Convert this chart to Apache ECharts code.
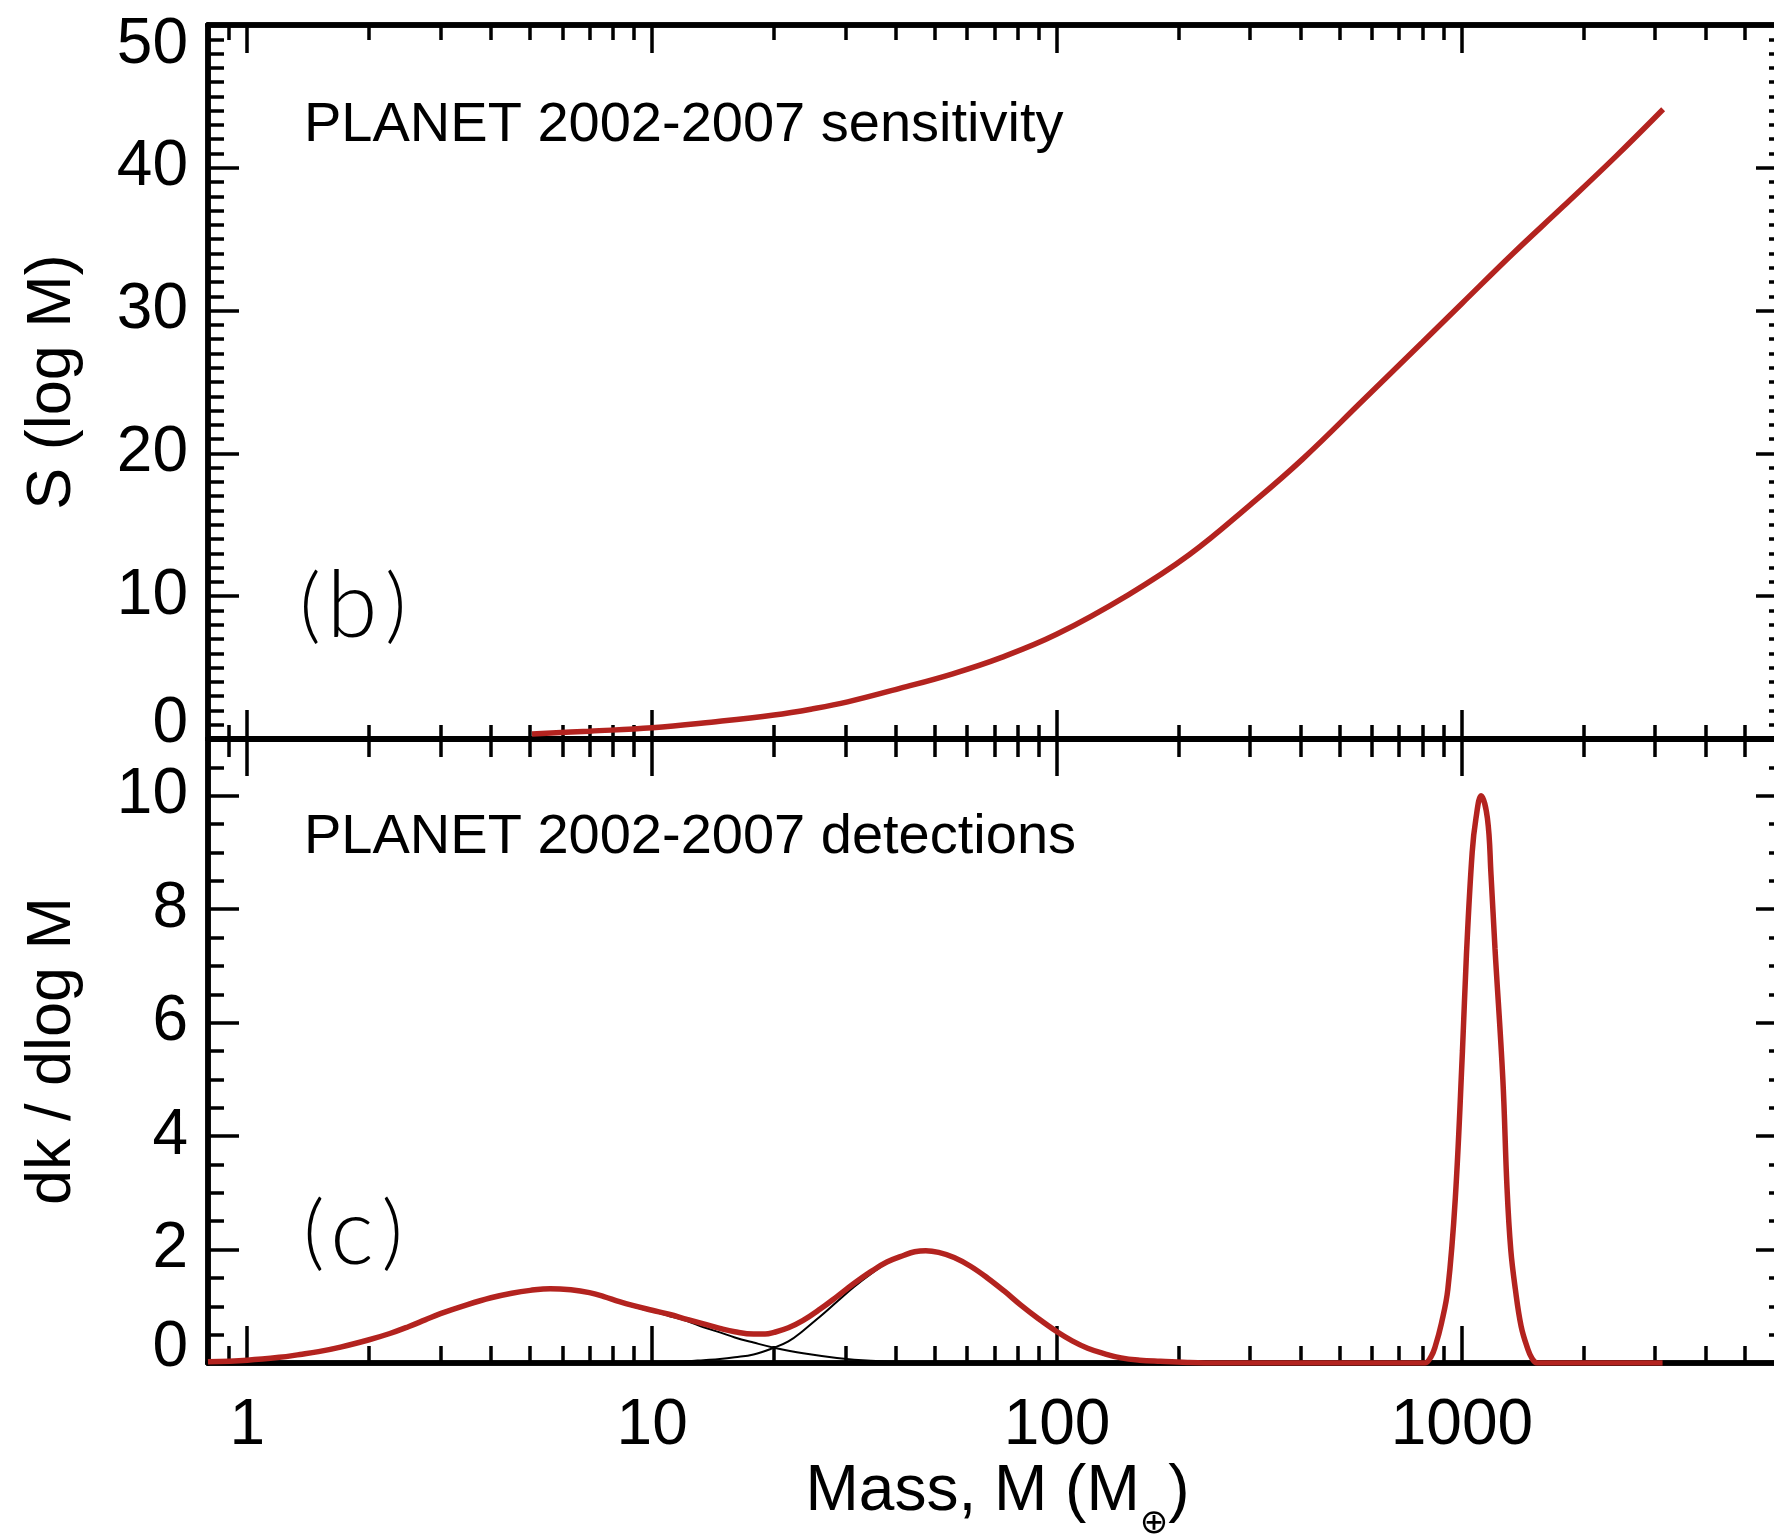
<!DOCTYPE html>
<html>
<head>
<meta charset="utf-8">
<script src="https://cdn.jsdelivr.net/npm/echarts@6/dist/echarts.min.js"></script>
<style>
html,body{margin:0;padding:0;background:#fff;}
#chart{width:1774px;height:1537px;}
</style>
</head>
<body>
<div id="chart"></div>
<script>
// ---------------- data ----------------
// panel (b): sensitivity S(log M)
const massSens = [5.05, 7, 10, 14, 20, 25, 30.4, 41.1, 55, 72.7, 100, 150, 212, 300, 404, 569, 800, 1000, 1337, 1780, 2400, 3140];
const sensitivity = [0.35, 0.55, 0.78, 1.18, 1.68, 2.12, 2.6, 3.56, 4.55, 5.7, 7.35, 10.1, 12.9, 16.4, 19.6, 23.7, 27.8, 30.5, 34.0, 37.3, 40.8, 44.1];

// panel (c): detections dk / dlog M (total, red)
const massDet = [0.8, 1, 1.2, 1.35, 1.5, 1.7, 2, 2.25, 2.5, 2.75, 3, 3.5, 4, 4.5, 5, 5.6, 6.3, 7, 7.6, 8.3, 9, 10, 11, 12.2, 13.4, 14.7, 16, 17.8, 19, 20, 21.7, 23.6, 26, 28.6, 31.5, 34.7, 38, 41.9, 44.5, 47.4, 51, 55.7, 61, 67.3, 74, 81.4, 90, 100, 109, 119, 130, 144, 160, 180, 210, 250, 800, 811, 840, 859, 890, 923, 963, 1003, 1026, 1060, 1083, 1115, 1156, 1180, 1207, 1262, 1292, 1320, 1355, 1400, 1449, 1490, 1535, 3130];
const detTotal = [0.02, 0.05, 0.1, 0.15, 0.2, 0.28, 0.41, 0.52, 0.64, 0.76, 0.87, 1.03, 1.15, 1.23, 1.28, 1.31, 1.29, 1.24, 1.17, 1.08, 1.01, 0.93, 0.86, 0.77, 0.69, 0.61, 0.55, 0.51, 0.51, 0.54, 0.62, 0.75, 0.95, 1.17, 1.4, 1.61, 1.78, 1.9, 1.96, 1.98, 1.95, 1.86, 1.71, 1.5, 1.27, 1.02, 0.78, 0.55, 0.39, 0.26, 0.17, 0.09, 0.05, 0.03, 0.01, 0, 0, 0, 0.12, 0.29, 0.7, 1.3, 2.9, 5.5, 7.2, 9.0, 9.6, 10.0, 9.6, 8.6, 7.3, 5.0, 3.1, 2.0, 1.3, 0.65, 0.28, 0.08, 0, 0];

// panel (c): individual components (thin black)
const massComp1 = [0.8, 1, 1.2, 1.35, 1.5, 1.7, 2, 2.25, 2.5, 2.75, 3, 3.5, 4, 4.5, 5, 5.6, 6.3, 7, 7.6, 8.3, 9, 10, 11, 12.2, 13.4, 14.7, 16, 17.8, 20, 23.6, 28.6, 34.7, 45, 60, 100];
const comp1 = [0.02, 0.05, 0.1, 0.15, 0.2, 0.28, 0.41, 0.52, 0.64, 0.76, 0.87, 1.03, 1.15, 1.23, 1.28, 1.31, 1.29, 1.24, 1.17, 1.07, 0.99, 0.91, 0.83, 0.74, 0.63, 0.54, 0.45, 0.36, 0.27, 0.17, 0.09, 0.04, 0.01, 0, 0];
const massComp2 = [5, 8, 10, 11, 12.2, 13.4, 14.7, 16, 17.8, 20, 21.7, 23.6, 26, 28.6, 31.5, 34.7, 38, 41.9, 44.5, 47.4, 51, 55.7, 61, 67.3, 74, 81.4, 90, 100, 109, 119, 130, 144, 160, 180, 210, 250, 400];
const comp2 = [0, 0.005, 0.01, 0.02, 0.03, 0.05, 0.07, 0.1, 0.15, 0.27, 0.38, 0.57, 0.82, 1.08, 1.34, 1.57, 1.76, 1.89, 1.95, 1.98, 1.95, 1.86, 1.71, 1.5, 1.27, 1.02, 0.78, 0.55, 0.39, 0.26, 0.17, 0.09, 0.05, 0.03, 0.01, 0, 0];

// axes / ticks
const xRange = [0.8, 6000];
const xMajorTicks = [1, 10, 100, 1000];
const xMinorTicks = [0.9, 2, 3, 4, 5, 6, 7, 8, 9, 20, 30, 40, 50, 60, 70, 80, 90,
  200, 300, 400, 500, 600, 700, 800, 900, 2000, 3000, 4000, 5000];
const ySensRange = [0, 50];
const ySensTicks = [0, 10, 20, 30, 40, 50];
const yDetRange = [0, 11];
const yDetTicks = [0, 2, 4, 6, 8, 10];

// ---------------- styling ----------------
const RED = '#b3231f';
const FONT = '"Liberation Sans", Arial, Helvetica, sans-serif';
const LINE_W = 5.5, TICK_W = 3.5;

const ySensMinor = []; for (let v = ySensRange[0]; v <= ySensRange[1]; v += 1) ySensMinor.push(v);
const yDetMinor = []; for (let v = yDetRange[0]; v <= yDetRange[1]; v += 0.5) yDetMinor.push(v);

const L0 = Math.log10(xRange[0]), L1 = Math.log10(xRange[1]);

function xTickAxis(gridIndex, position, ticks, len, extra) {
  return Object.assign({
    type: 'value', gridIndex: gridIndex, position: position, min: L0, max: L1,
    axisLine: {show: true, onZero: false, lineStyle: {color: '#000', width: LINE_W}},
    axisTick: {show: true, inside: true, length: len, customValues: ticks.map(t => Math.log10(t)),
      lineStyle: {color: '#000', width: TICK_W}},
    axisLabel: {show: false},
    splitLine: {show: false}
  }, extra || {});
}

function yTickAxis(gridIndex, position, range, ticks, len, extra) {
  return Object.assign({
    type: 'value', gridIndex: gridIndex, position: position, min: range[0], max: range[1],
    axisLine: {show: true, onZero: false, lineStyle: {color: '#000', width: LINE_W}},
    axisTick: {show: true, inside: true, length: len, customValues: ticks,
      lineStyle: {color: '#000', width: TICK_W}},
    axisLabel: {show: false},
    splitLine: {show: false}
  }, extra || {});
}

function yLabels(ticks, lo, hi) {
  return {
    show: true, customValues: ticks, margin: 20,
    fontSize: 64, fontFamily: FONT, color: '#000',
    formatter: function (v) {
      if (v === lo) return '{lo|' + v + '}';
      if (v === hi) return '{hi|' + v + '}';
      return String(v);
    },
    rich: {
      lo: {fontSize: 64, fontFamily: FONT, color: '#000', padding: [0, 0, 30, 0]},
      hi: {fontSize: 64, fontFamily: FONT, color: '#000', padding: [40, 0, 0, 0]}
    }
  };
}

const yNameStyle = {fontSize: 63, fontFamily: FONT, color: '#000'};

const panelTagRich = {
  p: {fontFamily: 'Lato, "Open Sans", sans-serif', fontWeight: 300, fontSize: 82, fill: '#000'},
  l: {fontFamily: 'Lato, "Open Sans", sans-serif', fontWeight: 300, fontSize: 92, fill: '#000', padding: [0, 8, 0, 6]}
};

const chart = echarts.init(document.getElementById('chart'), null, {renderer: 'canvas'});

const option = {
  backgroundColor: '#fff',
  animation: false,
  grid: [
    {left: 208, top: 25, width: 1569, height: 714, outerBoundsMode: 'none', containLabel: false},
    {left: 208, top: 739, width: 1569, height: 624, outerBoundsMode: 'none', containLabel: false}
  ],
  xAxis: [
    // data axes (logarithmic), hidden
    {type: 'log', logBase: 10, gridIndex: 0, min: xRange[0], max: xRange[1], show: false},
    {type: 'log', logBase: 10, gridIndex: 1, min: xRange[0], max: xRange[1], show: false},
    // panel (b) frame: top & bottom
    xTickAxis(0, 'top', xMajorTicks, 28),
    xTickAxis(0, 'top', xMinorTicks, 15),
    xTickAxis(0, 'bottom', xMajorTicks, 29),
    xTickAxis(0, 'bottom', xMinorTicks, 14),
    // panel (c) frame: top & bottom
    xTickAxis(1, 'top', xMajorTicks, 37),
    xTickAxis(1, 'top', xMinorTicks, 18),
    xTickAxis(1, 'bottom', xMajorTicks, 37, {
      axisLabel: {
        show: true, customValues: xMajorTicks.map(t => Math.log10(t)), margin: 31,
        fontSize: 64, fontFamily: FONT, color: '#000',
        formatter: v => String(Math.round(Math.pow(10, v)))
      },
      name: 'Mass, M (M{s|⊕})',
      nameLocation: 'middle', nameGap: 80,
      nameTextStyle: {
        fontSize: 64, fontFamily: FONT, color: '#000', padding: [0, 0, 0, 10],
        rich: {s: {fontSize: 34, fontFamily: '"DejaVu Sans", sans-serif', color: '#000', padding: [64, 0, 0, 0]}}
      }
    }),
    xTickAxis(1, 'bottom', xMinorTicks, 17)
  ],
  yAxis: [
    // panel (b)
    yTickAxis(0, 'left', ySensRange, ySensTicks, 31, {
      axisLabel: yLabels(ySensTicks, 0, 50),
      name: 'S (log M)', nameLocation: 'middle', nameRotate: 90, nameGap: 124, nameTextStyle: yNameStyle
    }),
    yTickAxis(0, 'left', ySensRange, ySensMinor, 16),
    yTickAxis(0, 'right', ySensRange, ySensTicks, 21),
    yTickAxis(0, 'right', ySensRange, ySensMinor, 8),
    // panel (c)
    yTickAxis(1, 'left', yDetRange, yDetTicks, 31, {
      axisLabel: yLabels(yDetTicks, 0, null),
      name: 'dk / dlog M', nameLocation: 'middle', nameRotate: 90, nameGap: 124, nameTextStyle: yNameStyle
    }),
    yTickAxis(1, 'left', yDetRange, yDetMinor, 16),
    yTickAxis(1, 'right', yDetRange, yDetTicks, 21),
    yTickAxis(1, 'right', yDetRange, yDetMinor, 8)
  ],
  series: [
    {
      name: 'sensitivity', type: 'line', xAxisIndex: 0, yAxisIndex: 0,
      data: massSens.map((m, i) => [m, sensitivity[i]]),
      showSymbol: false, smooth: 0.4, lineStyle: {color: RED, width: 5.5}, z: 5, silent: true
    },
    {
      name: 'component 1', type: 'line', xAxisIndex: 1, yAxisIndex: 4,
      data: massComp1.map((m, i) => [m, comp1[i]]),
      showSymbol: false, smooth: 0.4, lineStyle: {color: '#000', width: 2}, z: 3, silent: true
    },
    {
      name: 'component 2', type: 'line', xAxisIndex: 1, yAxisIndex: 4,
      data: massComp2.map((m, i) => [m, comp2[i]]),
      showSymbol: false, smooth: 0.4, lineStyle: {color: '#000', width: 2}, z: 3, silent: true
    },
    {
      name: 'detections', type: 'line', xAxisIndex: 1, yAxisIndex: 4,
      data: massDet.map((m, i) => [m, detTotal[i]]),
      showSymbol: false, smooth: 0.4, lineStyle: {color: RED, width: 5.5}, z: 5, silent: true
    }
  ],
  graphic: [
    {type: 'text', x: 304, y: 126, silent: true,
      style: {text: 'PLANET 2002-2007 sensitivity', font: '56px "Liberation Sans", Arial, sans-serif', fill: '#000', align: 'left', verticalAlign: 'middle'}},
    {type: 'text', x: 304, y: 838, silent: true,
      style: {text: 'PLANET 2002-2007 detections', font: '56px "Liberation Sans", Arial, sans-serif', fill: '#000', align: 'left', verticalAlign: 'middle'}},
    {type: 'text', x: 353, y: 607, silent: true,
      style: {text: '{p|(}{l|b}{p|)}', rich: panelTagRich, fill: '#000', align: 'center', verticalAlign: 'middle'}},
    {type: 'text', x: 353, y: 1234, silent: true,
      style: {text: '{p|(}{l|c}{p|)}', rich: panelTagRich, fill: '#000', align: 'center', verticalAlign: 'middle'}}
  ]
};

chart.setOption(option);
</script>
</body>
</html>
